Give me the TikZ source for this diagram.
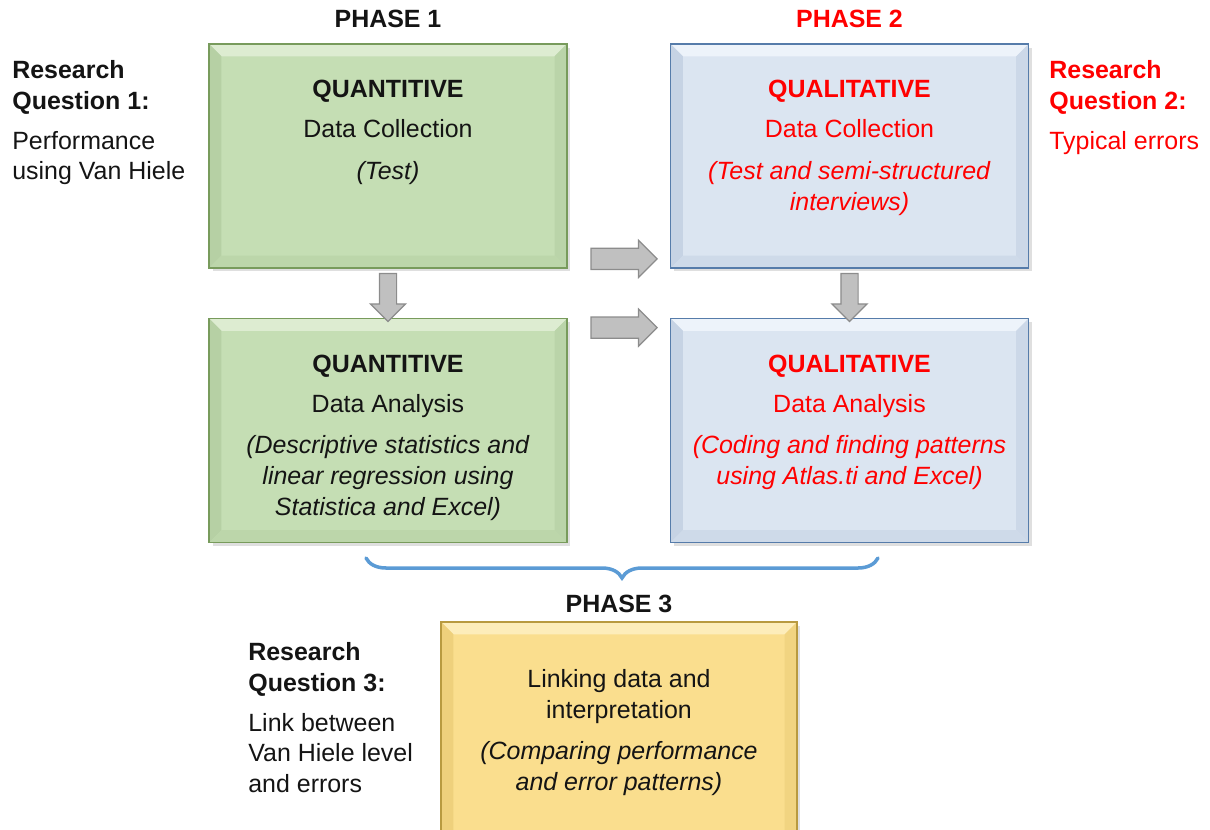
\documentclass[tikz,border=0pt]{standalone}
\usepackage{fontspec}
\setmainfont{Liberation Sans}
\usetikzlibrary{positioning,calc,shapes.arrows,shadows,decorations.pathreplacing}

\definecolor{qgreen}{RGB}{197,222,180}
\definecolor{qgreenlt}{RGB}{221,236,209}
\definecolor{qgreendk}{RGB}{182,208,164}
\definecolor{qgreenln}{RGB}{120,155,92}
\definecolor{qblue}{RGB}{219,229,241}
\definecolor{qbluelt}{RGB}{237,243,250}
\definecolor{qbluedk}{RGB}{198,211,228}
\definecolor{qblueln}{RGB}{86,124,170}
\definecolor{qyellow}{RGB}{250,222,142}
\definecolor{qyellowlt}{RGB}{253,237,186}
\definecolor{qyellowdk}{RGB}{238,208,124}
\definecolor{qyellowln}{RGB}{184,154,64}
\definecolor{arrowgray}{RGB}{192,192,192}
\definecolor{arrowgrayln}{RGB}{140,140,140}
\definecolor{bracebl}{RGB}{91,155,213}
\definecolor{txtblack}{RGB}{20,20,20}

\tikzset{
  every node/.style={inner sep=0pt, text=txtblack},
  txt/.style={font=\fontsize{14.2}{17.6}\selectfont},
  boxtext/.style={txt, align=center},
  sidetext/.style={txt, align=left, anchor=north west},
  phase/.style={txt, font=\fontsize{14.2}{17.6}\selectfont\bfseries},
  % bevelled box: fill, light facet, dark facet, border
  bevelbox/.style n args={4}{
    draw=#4, line width=1pt, fill=#1,
    minimum width=7.16cm, minimum height=4.48cm,
    drop shadow={opacity=0.25, shadow xshift=2pt, shadow yshift=-2pt},
    path picture={
      \fill[#2] (path picture bounding box.north west) -- (path picture bounding box.north east)
        -- ([shift={(-7pt,-7pt)}]path picture bounding box.north east)
        -- ([shift={(7pt,-7pt)}]path picture bounding box.north west) -- cycle;
      \fill[#3] (path picture bounding box.north west) -- (path picture bounding box.south west)
        -- ([shift={(7pt,7pt)}]path picture bounding box.south west)
        -- ([shift={(7pt,-7pt)}]path picture bounding box.north west) -- cycle;
      \fill[#3!70!#1] (path picture bounding box.north east) -- (path picture bounding box.south east)
        -- ([shift={(-7pt,7pt)}]path picture bounding box.south east)
        -- ([shift={(-7pt,-7pt)}]path picture bounding box.north east) -- cycle;
      \fill[#3!60!#1] (path picture bounding box.south west) -- (path picture bounding box.south east)
        -- ([shift={(-7pt,7pt)}]path picture bounding box.south east)
        -- ([shift={(7pt,7pt)}]path picture bounding box.south west) -- cycle;
    }
  },
  downarrow/.style={single arrow, draw=arrowgrayln, fill=arrowgray, line width=0.7pt,
    shape border rotate=270, inner ysep=0pt, inner xsep=0.16cm,
    single arrow head extend=0.18cm, minimum height=0.96cm},
  rightarrow/.style={single arrow, draw=arrowgrayln, fill=arrowgray, line width=0.7pt,
    inner xsep=0pt, inner ysep=0.2cm,
    single arrow head extend=0.16cm, minimum height=1.32cm}
}

\begin{document}
\begin{tikzpicture}[x=0.02cm,y=-0.02cm]
\useasboundingbox (0,0) rectangle (1210,829);

% phase 1 and 2 boxes
\node[bevelbox={qgreen}{qgreenlt}{qgreendk}{qgreenln}] (qncoll) at (388,156) {};
\node[bevelbox={qgreen}{qgreenlt}{qgreendk}{qgreenln}] (qnana) at (388,430.5) {};
\node[bevelbox={qblue}{qbluelt}{qbluedk}{qblueln}] (qlcoll) at (849.5,156) {};
\node[bevelbox={qblue}{qbluelt}{qbluedk}{qblueln}] (qlana) at (849.5,430.5) {};

\node[boxtext, below=0.74cm of qncoll.north] (qncolltxt)
  {\textbf{QUANTITIVE}\\[5pt] Data Collection\\[6.2pt] \textit{(Test)}};
\node[boxtext, below=0.74cm of qnana.north] (qnanatxt)
  {\textbf{QUANTITIVE}\\[5pt] Data Analysis\\[6.2pt] \textit{(Descriptive statistics and}\\
   \textit{linear regression using}\\ \textit{Statistica and Excel)}};
\node[boxtext, text=red, below=0.74cm of qlcoll.north] (qlcolltxt)
  {\textbf{QUALITATIVE}\\[5pt] Data Collection\\[6.2pt] \textit{(Test and semi-structured}\\
   \textit{interviews)}};
\node[boxtext, text=red, below=0.74cm of qlana.north] (qlanatxt)
  {\textbf{QUALITATIVE}\\[5pt] Data Analysis\\[6.2pt] \textit{(Coding and finding patterns}\\
   \textit{using Atlas.ti and Excel)}};

\node[phase, above=0.3cm of qncoll] (ph1) {PHASE 1};
\node[phase, text=red, above=0.3cm of qlcoll] (ph2) {PHASE 2};

% gray block arrows
\node[downarrow] (d1) at ($(qncoll.south)!0.5!(qnana.north)$) {};
\node[downarrow] (d2) at ($(qlcoll.south)!0.5!(qlana.north)$) {};
\node[rightarrow] (r1) at ($(qncoll.south east)!0.5!(qlcoll.south west)+(0,-10)$) {};
\node[rightarrow] (r2) at ($(qnana.north east)!0.5!(qlana.north west)+(0,10)$) {};

% research questions
\node[sidetext] (rq1) at (12,60)
  {\textbf{Research}\\ \textbf{Question 1:}\\[5pt] Performance\\ using Van Hiele};
\node[sidetext, text=red] (rq2) at (1049,60)
  {\textbf{Research}\\ \textbf{Question 2:}\\[5pt] Typical errors};
\node[sidetext] (rq3) at (248,642)
  {\textbf{Research}\\ \textbf{Question 3:}\\[5pt] Link between\\ Van Hiele level\\ and errors};

% phase 3
\draw[bracebl, line width=2pt, line cap=round, decorate,
  decoration={brace, mirror, amplitude=0.4cm}] (366,558) -- (878,558);

\node[bevelbox={qyellow}{qyellowlt}{qyellowdk}{qyellowln}, minimum width=7.12cm] (link) at (619,734) {};
\node[boxtext, below=0.95cm of link.north] (linktxt)
  {Linking data and\\ interpretation\\[6.2pt] \textit{(Comparing performance}\\
   \textit{and error patterns)}};
\node[phase, above=0.17cm of link] (ph3) {PHASE 3};
\end{tikzpicture}
\end{document}
